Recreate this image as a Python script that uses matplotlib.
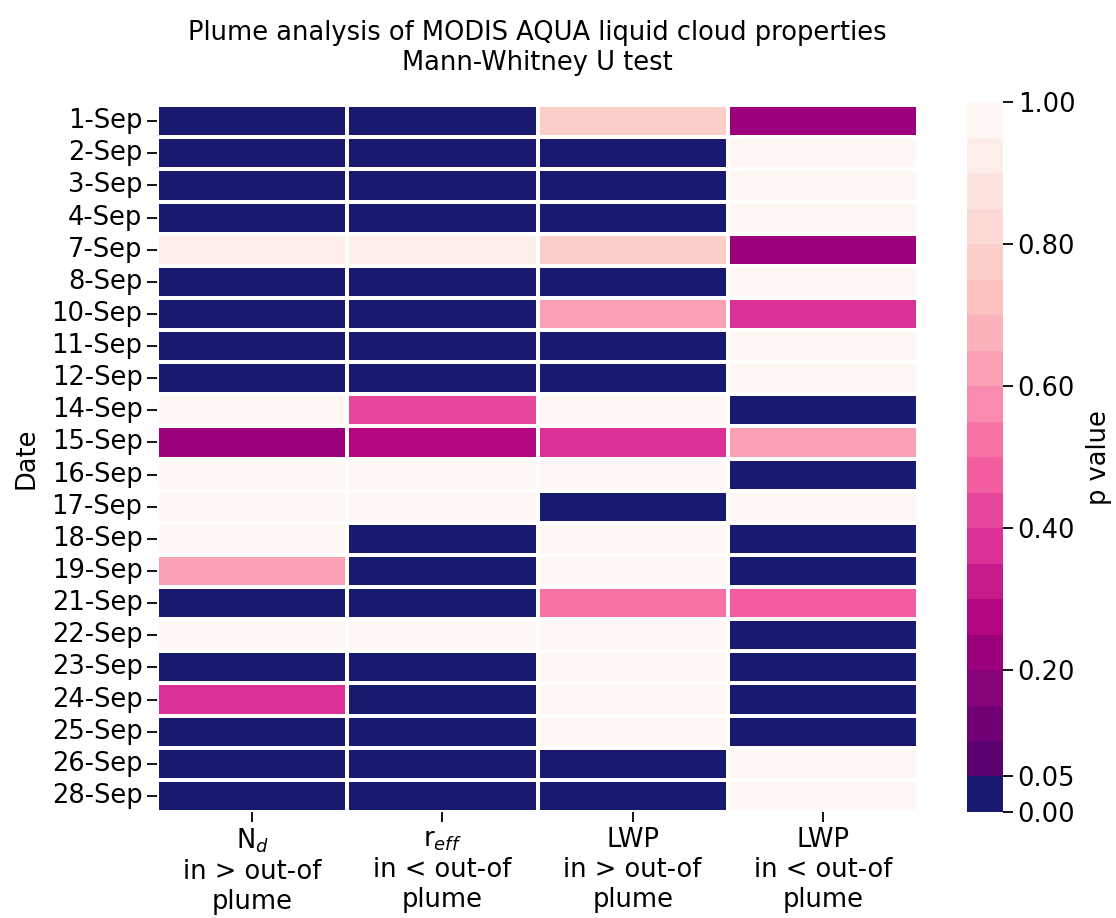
import numpy as np
import matplotlib
matplotlib.use("Agg")
import matplotlib.pyplot as plt
from matplotlib.colors import ListedColormap, BoundaryNorm
import seaborn as sns
import pandas as pd

# dates with valid overpasses
dates = ["1-Sep", "2-Sep", "3-Sep", "4-Sep", "7-Sep", "8-Sep", "10-Sep", "11-Sep",
         "12-Sep", "14-Sep", "15-Sep", "16-Sep", "17-Sep", "18-Sep", "19-Sep",
         "21-Sep", "22-Sep", "23-Sep", "24-Sep", "25-Sep", "26-Sep", "28-Sep"]

# p values per test
p_nd_greater = [0.01, 0.01, 0.01, 0.01, 0.93, 0.01, 0.01, 0.01, 0.01, 0.99, 0.22,
                0.99, 0.99, 0.99, 0.63, 0.01, 0.99, 0.01, 0.37, 0.01, 0.01, 0.01]
p_reff_less = [0.01, 0.01, 0.01, 0.01, 0.93, 0.01, 0.01, 0.01, 0.01, 0.42, 0.27,
               0.99, 0.99, 0.01, 0.01, 0.01, 0.99, 0.01, 0.01, 0.01, 0.01, 0.01]
p_lwp_greater = [0.78, 0.01, 0.01, 0.01, 0.78, 0.01, 0.63, 0.01, 0.01, 0.99, 0.37,
                 0.99, 0.01, 0.99, 0.99, 0.53, 0.99, 0.99, 0.99, 0.99, 0.01, 0.01]
p_lwp_less = [0.22, 0.99, 0.99, 0.99, 0.22, 0.99, 0.37, 0.99, 0.99, 0.01, 0.63,
              0.01, 0.99, 0.01, 0.01, 0.47, 0.01, 0.01, 0.01, 0.01, 0.99, 0.99]

col_labels = ["N$_d$\nin > out-of\nplume",
              "r$_{eff}$\nin < out-of\nplume",
              "LWP\nin > out-of\nplume",
              "LWP\nin < out-of\nplume"]

df = pd.DataFrame({c: v for c, v in zip(col_labels,
                   [p_nd_greater, p_reff_less, p_lwp_greater, p_lwp_less])},
                  index=dates)

# 20 bins of RdPu_r, lowest (p < 0.05) replaced by navy
levels = np.arange(0, 1.0001, 0.05)
colors = list(plt.get_cmap("RdPu_r")(np.linspace(0, 1, len(levels) - 1)))
colors[0] = "midnightblue"
cmap = ListedColormap(colors)
norm = BoundaryNorm(levels, cmap.N)

fig = plt.figure(figsize=(11.16, 9.18), dpi=100)
ax = fig.add_axes([0.1407, 0.1155, 0.6819, 0.7700])
cax = fig.add_axes([0.8665, 0.1155, 0.0323, 0.7730])

sns.heatmap(df, ax=ax, cbar_ax=cax, cmap=cmap, norm=norm, linewidths=1.5,
            linecolor="white",
            cbar_kws={"ticks": [0, 0.05, 0.2, 0.4, 0.6, 0.8, 1.0],
                      "format": "%.2f"})
cbar = ax.collections[0].colorbar
cbar.minorticks_off()

ax.tick_params(axis="both", length=7, width=1.3, labelsize=18.5)
ax.set_yticklabels(dates, rotation=0)
ax.set_xticklabels(col_labels, rotation=0, fontsize=18.5)
ax.set_ylabel("Date", fontsize=18.5, labelpad=9)
ax.set_xlabel("")
ax.set_title("Plume analysis of MODIS AQUA liquid cloud properties\nMann-Whitney U test",
             fontsize=18.5, pad=25)

cax.tick_params(length=7, width=1.3, labelsize=18.5)
cax.set_ylabel("p value", fontsize=18.5, labelpad=8)

fig.savefig("out.png", dpi=100)
